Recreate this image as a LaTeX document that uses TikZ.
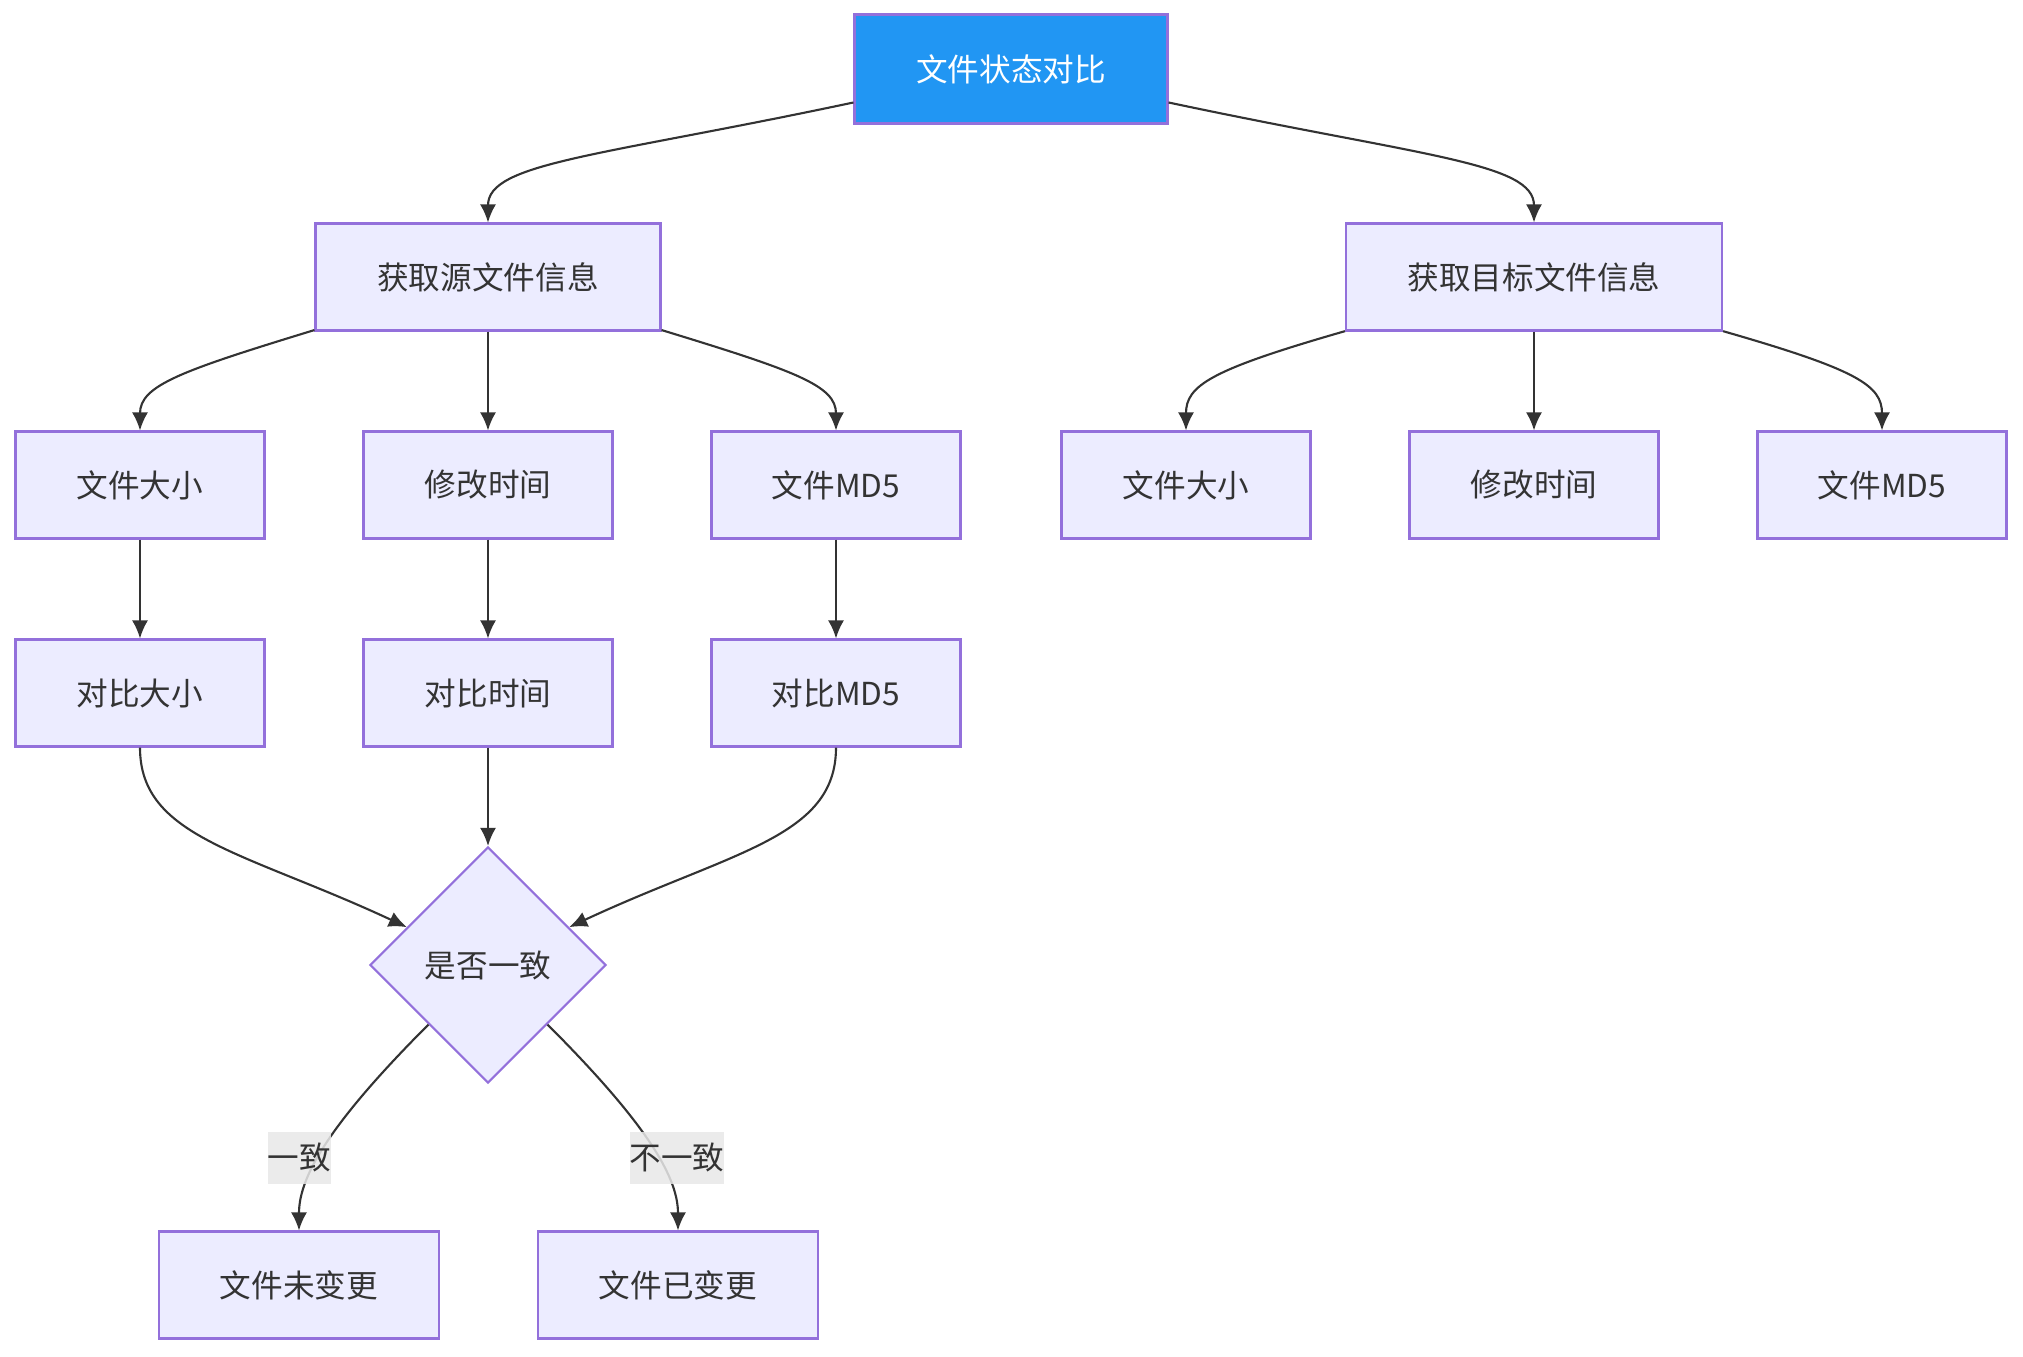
\documentclass[tikz,border=0pt]{standalone}
\usepackage{fontspec}
\newfontfamily\cjk{Noto Sans CJK SC}
\usepackage{tikz}
\usetikzlibrary{arrows.meta,shapes.geometric}
\definecolor{mblue}{HTML}{2196F3}
\definecolor{mpurple}{HTML}{9370DB}
\definecolor{mfill}{HTML}{ECECFF}
\definecolor{mtext}{HTML}{333333}
\definecolor{mlabel}{HTML}{E8E8E8}

\begin{document}
\begin{tikzpicture}
\tikzset{box/.style = {shape=rectangle,draw=mpurple,fill=mfill,line width=0.6pt,text=mtext,
  font=\cjk\fontsize{9}{11}\selectfont,minimum width=2.49cm,minimum height=1.07cm}}
\tikzset{head/.style = {box,fill=mblue,text=white,minimum width=3.13cm,minimum height=1.09cm}}
\tikzset{decide/.style = {box,shape=diamond,minimum width=2.36cm,minimum height=2.36cm,inner sep=0pt}}
\tikzset{edge/.style = {->,> = {Latex[length=1.8mm,width=1.6mm]},draw=mtext,line width=0.6pt}}
\tikzset{lbl/.style = {fill=mlabel,fill opacity=0.85,text opacity=1,text=mtext,inner xsep=0pt,
  minimum height=0.48cm,font=\cjk\fontsize{9}{11}\selectfont}}
\useasboundingbox (0,0) rectangle (20.23,-13.56);
% vertices
\node[head] (cmp) at (10.11,-0.69) {文件状态对比};
\node[box,minimum width=3.45cm] (src) at (4.88,-2.77) {获取源文件信息};
\node[box,minimum width=3.76cm] (dst) at (15.34,-2.77) {获取目标文件信息};
\node[box] (ssize) at (1.40,-4.85) {文件大小};
\node[box] (stime) at (4.88,-4.85) {修改时间};
\node[box] (smd5) at (8.36,-4.85) {文件MD5};
\node[box] (dsize) at (11.86,-4.85) {文件大小};
\node[box] (dtime) at (15.34,-4.85) {修改时间};
\node[box] (dmd5) at (18.82,-4.85) {文件MD5};
\node[box] (csize) at (1.40,-6.93) {对比大小};
\node[box] (ctime) at (4.88,-6.93) {对比时间};
\node[box] (cmd5) at (8.36,-6.93) {对比MD5};
\node[decide] (same) at (4.88,-9.65) {是否一致};
\node[box,minimum width=2.80cm] (keep) at (2.99,-12.85) {文件未变更};
\node[box,minimum width=2.80cm] (changed) at (6.78,-12.85) {文件已变更};
%edges
\draw[edge] (cmp) to[out=192,in=90,out distance=2.6cm,in distance=0.6cm] (src);
\draw[edge] (cmp) to[out=-12,in=90,out distance=2.6cm,in distance=0.6cm] (dst);

\draw[edge] (src) to[out=197,in=90,out distance=1.4cm,in distance=0.45cm] (ssize);
\draw[edge] (src) -- (stime);
\draw[edge] (src) to[out=-17,in=90,out distance=1.4cm,in distance=0.45cm] (smd5);
\draw[edge] (dst) to[out=196,in=90,out distance=1.4cm,in distance=0.45cm] (dsize);
\draw[edge] (dst) -- (dtime);
\draw[edge] (dst) to[out=-16,in=90,out distance=1.4cm,in distance=0.45cm] (dmd5);

\draw[edge] (ssize) -- (csize);
\draw[edge] (stime) -- (ctime);
\draw[edge] (smd5) -- (cmd5);

\draw[edge] (csize) to[out=-90,in=155,out distance=0.9cm,in distance=1.8cm] (same);
\draw[edge] (ctime) -- (same);
\draw[edge] (cmd5) to[out=-90,in=25,out distance=0.9cm,in distance=1.8cm] (same);

\draw[edge] (same.south west) to[out=225,in=90,out distance=1.5cm,in distance=0.5cm]
  node[lbl,pos=0.55,xshift=-0.19cm] (yes) {一致} (keep);
\draw[edge] (same.south east) to[out=-45,in=90,out distance=1.5cm,in distance=0.5cm]
  node[lbl,pos=0.55,xshift=0.19cm] (no) {不一致} (changed);
\end{tikzpicture}
\end{document}
